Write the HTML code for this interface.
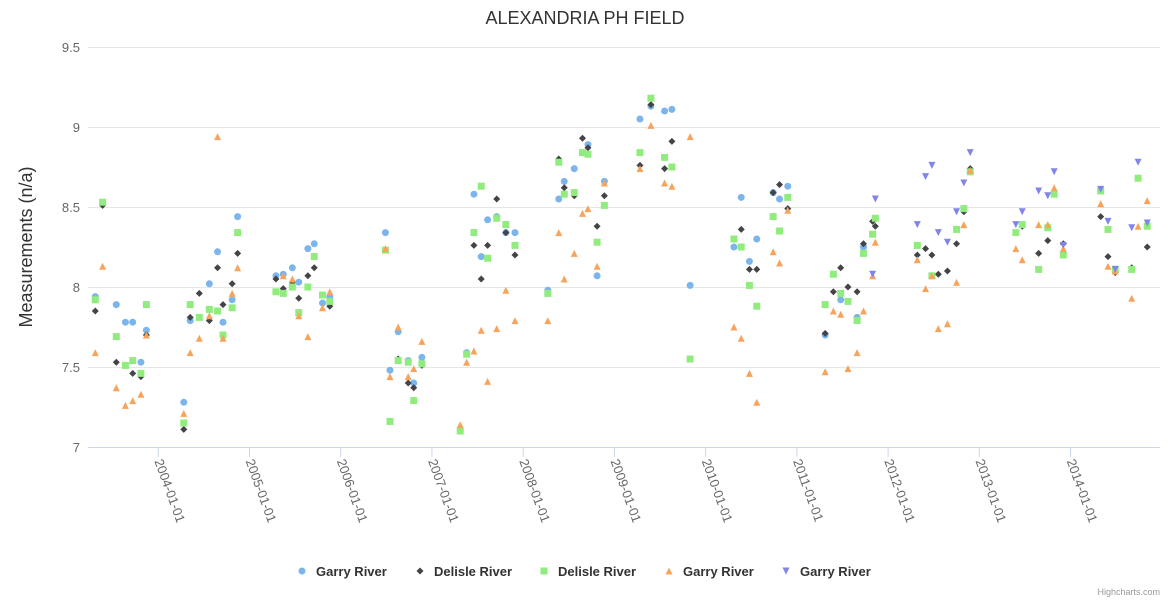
<!DOCTYPE html>
<html><head><meta charset="utf-8">
<style>
body{margin:0;background:#fff;}
svg{display:block;font-family:"Liberation Sans",sans-serif;}
</style></head>
<body>
<svg id="chart" width="1170" height="600"></svg>
<script>
const yTicks=[7,7.5,8,8.5,9,9.5];
const yTickLabels=["7","7.5","8","8.5","9","9.5"];
const xTickYears=[2004,2005,2006,2007,2008,2009,2010,2011,2012,2013,2014];
const xTickLabels=["2004-01-01","2005-01-01","2006-01-01","2007-01-01","2008-01-01","2009-01-01","2010-01-01","2011-01-01","2012-01-01","2013-01-01","2014-01-01"];
const seriesNames=["Garry River","Delisle River","Delisle River","Garry River","Garry River"];
const seriesColors=["#7cb5ec","#434348","#90ed7d","#f7a35c","#8085e9"];
const seriesSymbols=["circle","diamond","square","triangle","triangle-down"];
const garryCircle=[[2003.31,7.94],[2003.54,7.89],[2003.64,7.78],[2003.72,7.78],[2003.81,7.53],[2003.87,7.73],[2004.28,7.28],[2004.35,7.79],[2004.56,8.02],[2004.65,8.22],[2004.71,7.78],[2004.81,7.92],[2004.87,8.44],[2005.29,8.07],[2005.37,8.08],[2005.47,8.12],[2005.54,8.03],[2005.64,8.24],[2005.71,8.27],[2005.80,7.90],[2005.88,7.94],[2006.49,8.34],[2006.63,7.72],[2006.54,7.48],[2006.74,7.54],[2006.80,7.40],[2006.89,7.56],[2007.38,7.59],[2007.46,8.58],[2007.61,8.42],[2007.71,8.44],[2007.81,8.34],[2007.91,8.34],[2007.54,8.19],[2008.27,7.98],[2008.39,8.55],[2008.45,8.66],[2008.56,8.74],[2008.71,8.89],[2008.81,8.07],[2008.89,8.66],[2009.28,9.05],[2009.40,9.13],[2009.55,9.10],[2009.63,9.11],[2009.83,8.01],[2010.39,8.56],[2010.31,8.25],[2010.56,8.30],[2010.48,8.16],[2010.74,8.59],[2010.81,8.55],[2010.90,8.63],[2011.31,7.70],[2011.48,7.92],[2011.66,7.81],[2011.73,8.25],[2014.33,8.60]];
const delisleDiamond=[[2003.39,8.51],[2003.31,7.85],[2003.54,7.53],[2003.72,7.46],[2003.81,7.44],[2003.87,7.70],[2004.28,7.11],[2004.35,7.81],[2004.45,7.96],[2004.56,7.79],[2004.65,8.12],[2004.71,7.89],[2004.81,8.02],[2004.87,8.21],[2005.29,8.05],[2005.37,7.99],[2005.47,8.03],[2005.54,7.93],[2005.64,8.07],[2005.71,8.12],[2005.88,7.88],[2006.63,7.55],[2006.74,7.40],[2006.80,7.37],[2006.89,7.51],[2007.46,8.26],[2007.54,8.05],[2007.61,8.26],[2007.71,8.55],[2007.81,8.34],[2007.91,8.20],[2008.39,8.80],[2008.45,8.62],[2008.56,8.57],[2008.65,8.93],[2008.71,8.87],[2008.81,8.38],[2008.89,8.57],[2009.28,8.76],[2009.40,9.14],[2009.63,8.91],[2009.55,8.74],[2010.39,8.36],[2010.48,8.11],[2010.56,8.11],[2010.74,8.59],[2010.81,8.64],[2010.90,8.49],[2011.31,7.71],[2011.40,7.97],[2011.48,8.12],[2011.56,8.00],[2011.66,7.97],[2011.73,8.27],[2011.83,8.41],[2011.86,8.38],[2012.32,8.20],[2012.41,8.24],[2012.48,8.20],[2012.55,8.08],[2012.65,8.10],[2012.75,8.27],[2012.83,8.47],[2012.90,8.74],[2013.47,8.38],[2013.65,8.21],[2013.75,8.29],[2013.92,8.27],[2014.33,8.44],[2014.41,8.19],[2014.49,8.09],[2014.67,8.12],[2014.84,8.25]];
const delisleSquare=[[2003.39,8.53],[2003.31,7.92],[2003.54,7.69],[2003.64,7.51],[2003.72,7.54],[2003.81,7.46],[2003.87,7.89],[2004.28,7.15],[2004.35,7.89],[2004.45,7.81],[2004.56,7.86],[2004.65,7.85],[2004.71,7.70],[2004.81,7.87],[2004.87,8.34],[2005.29,7.97],[2005.37,7.96],[2005.47,8.00],[2005.54,7.84],[2005.64,8.00],[2005.71,8.19],[2005.80,7.95],[2005.88,7.91],[2006.49,8.23],[2006.54,7.16],[2006.63,7.54],[2006.74,7.53],[2006.80,7.29],[2006.89,7.52],[2007.31,7.10],[2007.38,7.58],[2007.46,8.34],[2007.54,8.63],[2007.61,8.18],[2007.71,8.43],[2007.81,8.39],[2007.91,8.26],[2008.27,7.96],[2008.39,8.78],[2008.45,8.58],[2008.56,8.59],[2008.65,8.84],[2008.71,8.83],[2008.81,8.28],[2008.89,8.51],[2009.28,8.84],[2009.40,9.18],[2009.55,8.81],[2009.63,8.75],[2009.83,7.55],[2010.31,8.30],[2010.39,8.25],[2010.48,8.01],[2010.56,7.88],[2010.74,8.44],[2010.81,8.35],[2010.90,8.56],[2011.31,7.89],[2011.40,8.08],[2011.48,7.96],[2011.56,7.91],[2011.66,7.79],[2011.73,8.21],[2011.83,8.33],[2011.86,8.43],[2012.32,8.26],[2012.48,8.07],[2012.75,8.36],[2012.83,8.49],[2012.90,8.72],[2013.40,8.34],[2013.47,8.39],[2013.65,8.11],[2013.75,8.37],[2013.82,8.58],[2013.92,8.20],[2014.33,8.60],[2014.41,8.36],[2014.49,8.11],[2014.67,8.11],[2014.74,8.68],[2014.84,8.38]];
const garryTriangle=[[2003.39,8.13],[2003.31,7.59],[2003.54,7.37],[2003.64,7.26],[2003.72,7.29],[2003.81,7.33],[2003.87,7.70],[2004.28,7.21],[2004.35,7.59],[2004.45,7.68],[2004.56,7.82],[2004.65,8.94],[2004.71,7.68],[2004.81,7.96],[2004.87,8.12],[2005.37,8.07],[2005.47,8.05],[2005.54,7.82],[2005.64,7.69],[2005.80,7.87],[2005.88,7.97],[2006.49,8.24],[2006.54,7.44],[2006.63,7.75],[2006.74,7.44],[2006.80,7.49],[2006.89,7.66],[2007.31,7.14],[2007.38,7.53],[2007.46,7.60],[2007.54,7.73],[2007.61,7.41],[2007.71,7.74],[2007.81,7.98],[2007.91,7.79],[2008.27,7.79],[2008.39,8.34],[2008.45,8.05],[2008.56,8.21],[2008.65,8.46],[2008.71,8.49],[2008.81,8.13],[2008.89,8.65],[2009.28,8.74],[2009.40,9.01],[2009.55,8.65],[2009.63,8.63],[2009.83,8.94],[2010.31,7.75],[2010.39,7.68],[2010.48,7.46],[2010.56,7.28],[2010.74,8.22],[2010.81,8.15],[2010.90,8.48],[2011.31,7.47],[2011.40,7.85],[2011.48,7.83],[2011.56,7.49],[2011.66,7.59],[2011.73,7.85],[2011.83,8.07],[2011.86,8.28],[2012.32,8.17],[2012.41,7.99],[2012.48,8.07],[2012.55,7.74],[2012.65,7.77],[2012.75,8.03],[2012.83,8.39],[2012.90,8.73],[2013.40,8.24],[2013.47,8.17],[2013.65,8.39],[2013.75,8.39],[2013.82,8.62],[2013.92,8.24],[2014.33,8.52],[2014.41,8.13],[2014.49,8.10],[2014.67,7.93],[2014.74,8.38],[2014.84,8.54]];
const garryDown=[[2011.86,8.55],[2011.83,8.08],[2012.32,8.39],[2012.41,8.69],[2012.48,8.76],[2012.55,8.34],[2012.65,8.28],[2012.75,8.47],[2012.83,8.65],[2012.90,8.84],[2013.40,8.39],[2013.47,8.47],[2013.65,8.60],[2013.75,8.57],[2013.82,8.72],[2013.92,8.26],[2014.33,8.61],[2014.41,8.41],[2014.49,8.11],[2014.67,8.37],[2014.74,8.78],[2014.84,8.40]];
const seriesData=[garryCircle,delisleDiamond,delisleSquare,garryTriangle,garryDown];

const NS="http://www.w3.org/2000/svg";
const svg=document.getElementById('chart');
const L=88,R=1160,T=47,B=447;
const xMin=2003.23,xMax=2014.98;
function xs(v){return L+(v-xMin)/(xMax-xMin)*(R-L);}
function ys(v){return B-(v-7)/(9.5-7)*(B-T);}
function mk(tag,attrs,parent){const e=document.createElementNS(NS,tag);for(const k in attrs)e.setAttribute(k,attrs[k]);(parent||svg).appendChild(e);return e;}
function sym(type,cx,cy,color,parent){
  let e;const r=3.5;
  if(type==='circle')e=mk('circle',{cx:cx,cy:cy,r:r,fill:color},parent);
  else if(type==='square')e=mk('rect',{x:cx-r,y:cy-r,width:2*r,height:2*r,fill:color},parent);
  else if(type==='diamond')e=mk('path',{d:`M${cx} ${cy-r}L${cx+r} ${cy}L${cx} ${cy+r}L${cx-r} ${cy}Z`,fill:color},parent);
  else if(type==='triangle')e=mk('path',{d:`M${cx} ${cy-r}L${cx+r} ${cy+r}L${cx-r} ${cy+r}Z`,fill:color},parent);
  else e=mk('path',{d:`M${cx-r} ${cy-r}L${cx+r} ${cy-r}L${cx} ${cy+r}Z`,fill:color},parent);
  return e;
}
const title=mk('text',{x:585,y:24,'text-anchor':'middle','font-size':18,fill:'#333'});
title.textContent='ALEXANDRIA PH FIELD';


yTicks.forEach((v,i)=>{
  const g=mk('line',{x1:L,x2:R,y1:ys(v)+0.5,y2:ys(v)+0.5,stroke:'#e6e6e6','stroke-width':1});
  
  
  const t=mk('text',{x:80,y:ys(v)+5,'text-anchor':'end','font-size':13,fill:'#666'});
  t.textContent=yTickLabels[i];
  
  
});
const axisLine=mk('line',{x1:L,x2:R,y1:B+0.5,y2:B+0.5,stroke:'#ccd6eb'});


xTickYears.forEach((v,i)=>{
  const x=xs(v);
  const tk=mk('line',{x1:x,x2:x,y1:B,y2:B+10,stroke:'#ccd6eb'});
  
  
  const t=mk('text',{x:x-4,y:B+14,'font-size':13,fill:'#666',transform:`rotate(70 ${x-4} ${B+14})`});
  t.textContent=xTickLabels[i];
  
  
});
const yt=mk('text',{x:32,y:247,'text-anchor':'middle','font-size':18,fill:'#333',transform:'rotate(-90 32 247)'});
yt.textContent='Measurements (n/a)';


seriesData.forEach((arr,si)=>{
  const g=mk('g',{});
  
  
  arr.forEach(p=>{
    const e=sym(seriesSymbols[si],xs(p[0]),ys(p[1]),seriesColors[si],g);
    
    
  });
});
const legX=[302,420,544,669,786];
seriesNames.forEach((n,i)=>{
  const g=mk('g',{style:'cursor:pointer'});
  
  
  sym(seriesSymbols[i],legX[i],571,seriesColors[i],g);
  const t=mk('text',{x:legX[i]+14,y:576,'font-size':13,'font-weight':'bold',fill:'#333'},g);
  t.textContent=n;
});
const cr=mk('text',{x:1160,y:595,'text-anchor':'end','font-size':9,fill:'#999'});
cr.textContent='Highcharts.com';


</script>
</body></html>
